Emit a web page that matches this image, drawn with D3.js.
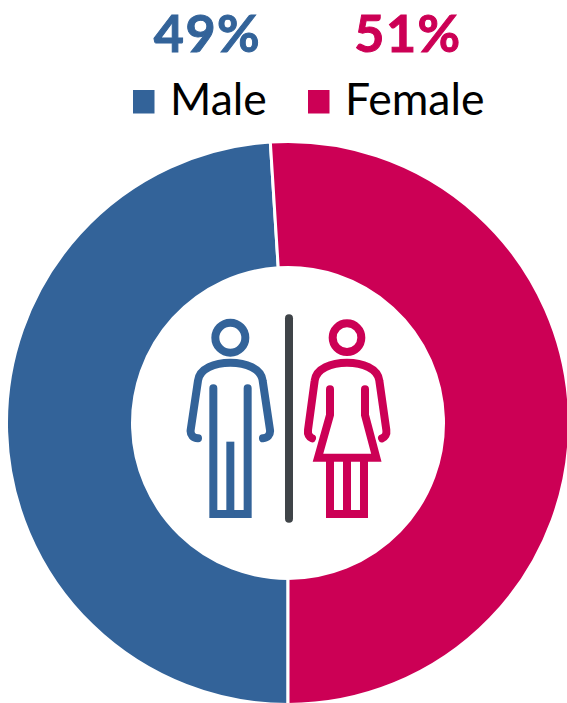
<!DOCTYPE html>
<html>
<head>
<meta charset="utf-8">
<script src="https://cdn.jsdelivr.net/npm/d3@7"></script>
<style>
html, body { margin: 0; padding: 0; background: #fff; overflow: hidden; }
svg { display: block; }
text { font-family: Lato, "Open Sans", sans-serif; }
</style>
</head>
<body>
<div id="chart"></div>
<script>
var categories = ["Male", "Female"];
var values = [49, 51];
var colors = ["#336399", "#cc0055"];

function init() {
    var w = 567;
    var h = 703;
    var cx = 288, cy = 423, outer = 281.5, inner = 155.5;

    var svg = d3.select("#chart").append("svg")
        .attr("width", w)
        .attr("height", h);

    // Donut, starts at 6 o'clock and goes clockwise
    var pie = d3.pie().sort(null).startAngle(Math.PI).endAngle(3 * Math.PI);
    var arc = d3.arc().innerRadius(inner).outerRadius(outer);

    svg.append("g")
        .attr("transform", "translate(" + cx + "," + cy + ")")
        .selectAll("path")
        .data(pie(values))
        .enter().append("path")
        .attr("d", arc)
        .attr("fill", (d, i) => colors[i])
        .attr("stroke", "#fff")
        .attr("stroke-width", 3);

    // Percentages, a thin stroke makes the bold as heavy as the original
    var pctX = [207.5, 408];
    svg.selectAll("text.pct")
        .data(values)
        .enter().append("text")
        .attr("class", "pct")
        .attr("x", (d, i) => pctX[i])
        .attr("y", 51.5)
        .attr("text-anchor", "middle")
        .attr("font-size", 52)
        .attr("font-weight", 700)
        .attr("letter-spacing", 1.5)
        .attr("fill", (d, i) => colors[i])
        .attr("stroke", (d, i) => colors[i])
        .attr("stroke-width", 1)
        .text(d => d + "%");

    // Legend
    var swatchX = [133, 308];
    var labelX = [170, 345];
    categories.forEach(function(name, i) {
        svg.append("rect")
            .attr("x", swatchX[i])
            .attr("y", 90)
            .attr("width", 21.5)
            .attr("height", 23.5)
            .attr("fill", colors[i]);
        svg.append("text")
            .attr("x", labelX[i])
            .attr("y", 115)
            .attr("font-size", 44.5)
            .attr("fill", "#000")
            .text(name);
    });

    // Icons, drawn in 3x units like the zoomed crop
    var icons = svg.append("g")
        .attr("transform", "translate(170,300) scale(0.33333)")
        .attr("fill", "none")
        .attr("stroke-width", 24)
        .attr("stroke-linecap", "round")
        .attr("stroke-linejoin", "miter");

    icons.append("line")
        .attr("x1", 357).attr("y1", 55)
        .attr("x2", 357).attr("y2", 656)
        .attr("stroke", "#3f4448");

    var man = icons.append("g").attr("stroke", colors[0]);
    man.append("circle").attr("cx", 181).attr("cy", 113).attr("r", 45);
    man.append("path").attr("d", "M84,415 C70,414 60,405 62,390 L84,242 C88,205 135,188 181,188 C227,188 274,205 278,242 L300,390 C302,405 292,414 279,415");
    man.append("path").attr("d", "M130,265 L130,642 L233,642 L233,265");
    man.append("path").attr("stroke-linecap", "butt").attr("d", "M181,425 L181,642");

    var woman = icons.append("g").attr("stroke", colors[1]);
    woman.append("circle").attr("cx", 531).attr("cy", 113).attr("r", 43);
    woman.append("path").attr("d", "M426,415 C418,412 412,403 414,390 L434,242 C438,205 485,188 531,188 C577,188 624,205 628,242 L649,390 C651,403 645,412 636,415");
    woman.append("path").attr("d", "M480,268 L480,345 L444,473 L619,473 L585,345 L585,268");
    woman.append("path").attr("stroke-linecap", "butt").attr("d", "M480,473 L480,642 L582,642 L582,473 M531,473 L531,642");
}

window.onload = init;
</script>
</body>
</html>
